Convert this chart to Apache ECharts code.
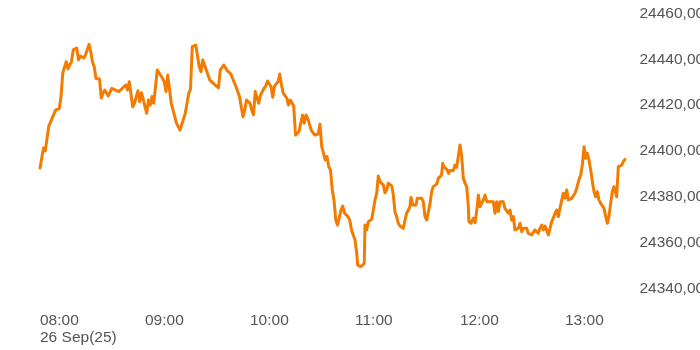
<!DOCTYPE html>
<html>
<head>
<meta charset="utf-8">
<script src="https://cdn.jsdelivr.net/npm/echarts@6/dist/echarts.min.js"></script>
<style>html,body{margin:0;padding:0;background:#fff}#c{width:700px;height:350px}</style>
</head>
<body>
<div id="c"></div>
<script>
// minutes after 08:00 on 26 Sep 2025
const minutes = [0,2,3,5,7,9,11,12,13,14,15,16,17,18,19,21,22,23,24,25,26,28,29,30,31,32,34,35,36,37,39,41,42,45,47,49,50,51,53,54,56,57,58,59,61,62,63,64,65,67,68,70,71,72,73,74,75,76,78,80,81,83,85,86,87,89,90,91,92,93,94,96,97,98,100,101,102,103,105,106,107,109,110,112,113,114,116,117,118,120,121,122,123,124,125,126,128,129,130,132,133,134,136,137,138,139,141,142,143,144,145,146,148,150,151,152,153,155,157,159,160,161,162,163,164,165,166,167,168,169,170,171,172,173,174,175,176,177,178,179,180,181,181.5,182.5,183.3,184.2,185.3,185.7,186.7,187.6,188.6,189.5,190.5,191.4,192.4,193.3,194.3,195.3,196.2,197.1,198.1,199,200,201,201.9,202.9,203.8,204.7,205.7,206.7,207.6,208.6,209.5,210.5,211.4,212,213,213.7,214.9,215.6,216.7,218.1,219,220,221,221.9,222.9,223.8,224.7,225.7,226.7,227.6,228.6,229.5,230.1,230.9,232,232.7,233.5,234.3,235.3,236.2,237.1,238.1,239,240,241,241.9,242.9,243.8,244.7,245.1,246.3,247.6,248.6,249.5,250.5,251.4,252.4,253.3,254.3,255.3,256.2,257.1,258.1,259,260,261,261.9,262.9,263.8,264.7,265.7,266.7,267.6,268.6,269.5,270.5,271.4,272.4,273.3,274.3,275.3,276.2,278.1,279,280,281,281.9,282.9,283.8,284.7,285.7,286.7,287.6,288.6,289.5,290.5,291.4,292.4,293.3,294.3,295.3,296.2,297.1,298.1,299,300,301,301.9,302.9,303.8,304.7,305.7,306.7,307.6,308.2,309,309.9,310.9,311.8,312.7,313.7,314.7,315.6,316.6,317.5,318.5,319.4,320.4,321.3,322.3,323.3,324.2,325.1,326.1,327,328,329,329.5,330.5,331.4,332.4,333.3,334.3];
const prices = [24392.5,24401.3,24400.0,24410.7,24414.4,24417.9,24418.5,24423.5,24434.0,24434.6,24439.0,24435.8,24437.5,24439.0,24444.1,24444.9,24439.7,24441.4,24441.9,24440.6,24441.9,24446.5,24443.3,24438.8,24436.6,24431.6,24431.4,24423.1,24425.2,24426.6,24424.0,24427.3,24427.9,24425.9,24427.3,24428.8,24426.6,24430.2,24419.3,24420.8,24426.3,24421.5,24425.4,24425.9,24416.4,24422.2,24420.0,24423.7,24420.8,24435.3,24435.6,24431.7,24430.2,24425.9,24433.1,24433.1,24420.8,24420.8,24412.1,24409.1,24409.9,24416.4,24425.2,24426.9,24445.5,24446.2,24445.5,24436.8,24434.6,24439.7,24439.4,24433.1,24431.0,24430.2,24428.8,24428.8,24427.6,24435.3,24437.5,24438.3,24435.0,24433.6,24431.7,24428.0,24427.3,24423.7,24414.9,24417.9,24422.2,24420.8,24417.9,24415.7,24425.9,24425.2,24420.8,24424.4,24427.3,24428.3,24430.5,24428.0,24423.4,24428.3,24430.2,24433.6,24428.8,24425.2,24423.0,24420.0,24422.2,24423.0,24419.6,24406.9,24408.4,24415.7,24412.1,24415.7,24414.2,24409.1,24406.9,24407.4,24411.7,24401.8,24399.0,24396.0,24397.5,24393.1,24391.7,24382.9,24378.6,24369.8,24367.6,24368.1,24374.2,24375.9,24372.8,24372.0,24371.3,24369.8,24365.5,24363.3,24361.1,24355.3,24350.2,24349.9,24349.4,24348.7,24350.9,24367.6,24365.5,24369.1,24369.1,24370.1,24374.2,24378.6,24381.5,24389.0,24386.6,24385.9,24385.1,24381.7,24382.9,24385.9,24385.9,24384.7,24380.7,24373.1,24371.3,24368.4,24367.2,24366.9,24366.2,24369.8,24372.8,24374.2,24375.6,24379.7,24376.4,24377.1,24376.4,24379.3,24380.0,24379.3,24377.8,24371.3,24369.8,24370.6,24377.1,24382.2,24384.4,24385.1,24385.5,24388.0,24387.6,24389.5,24394.6,24393.1,24393.1,24391.7,24390.2,24391.4,24390.9,24391.4,24393.8,24392.8,24393.4,24402.6,24397.5,24388.0,24385.9,24384.4,24376.4,24369.1,24368.4,24370.6,24368.6,24373.5,24380.7,24375.6,24376.4,24378.6,24380.7,24377.8,24378.3,24377.8,24378.6,24377.8,24372.8,24377.8,24373.5,24377.8,24377.1,24377.8,24374.9,24374.2,24372.8,24374.2,24369.8,24371.3,24365.5,24366.2,24366.2,24368.4,24364.7,24366.2,24366.2,24364.0,24364.0,24363.3,24364.0,24365.5,24366.2,24364.0,24366.2,24367.6,24365.5,24367.2,24367.6,24363.3,24366.2,24369.1,24370.6,24372.8,24374.2,24371.3,24374.9,24375.6,24381.5,24379.3,24382.9,24378.6,24377.8,24379.3,24380.0,24381.5,24383.7,24384.4,24388.0,24389.5,24393.8,24401.8,24396.8,24399.0,24396.0,24391.7,24386.6,24382.2,24380.0,24382.2,24378.6,24377.1,24377.8,24374.9,24371.3,24368.4,24371.3,24377.1,24382.2,24384.4,24383.7,24380.0,24393.1,24393.8,24393.8,24395.3,24396.3];
const hourTicks = ['08:00','09:00','10:00','11:00','12:00','13:00'];
const dateLabel = '26 Sep(25)';
const yTicks = [24340,24360,24380,24400,24420,24440,24460];

const chart = echarts.init(document.getElementById('c'), null, {renderer:'canvas'});
const font = "'Liberation Sans', Arial, sans-serif";
chart.setOption({
  animation:false,
  backgroundColor:'#ffffff',
  grid:{left:40, right:68.5, top:13.5, bottom:61.7, containLabel:false, outerBoundsMode:'none'},
  xAxis:{
    type:'value', min:0, max:338, interval:60,
    axisLine:{show:false}, axisTick:{show:false}, splitLine:{show:false},
    axisLabel:{
      margin:24, color:'#555', fontSize:15.5, fontFamily:font, align:'left', lineHeight:17,
      showMaxLabel:false, hideOverlap:false,
      formatter:function(v){
        const i = Math.round(v/60);
        const t = hourTicks[i] || '';
        return i === 0 ? t + '\n' + dateLabel : t;
      }
    }
  },
  yAxis:{
    type:'value', position:'right', min:yTicks[0], max:yTicks[yTicks.length-1], interval:20,
    axisLine:{show:false}, axisTick:{show:false}, splitLine:{show:false},
    axisLabel:{margin:8, color:'#555', fontSize:15.5, fontFamily:font, hideOverlap:false,
      formatter:function(v){return v.toFixed(2).replace('.',',');}}
  },
  series:[{
    type:'line', data:minutes.map((m,i)=>[m,prices[i]]),
    showSymbol:false, symbol:'none',
    lineStyle:{color:'#f27b00', width:3, join:'round', cap:'round'},
    itemStyle:{color:'#f27b00'}
  }]
});
</script>
</body>
</html>
